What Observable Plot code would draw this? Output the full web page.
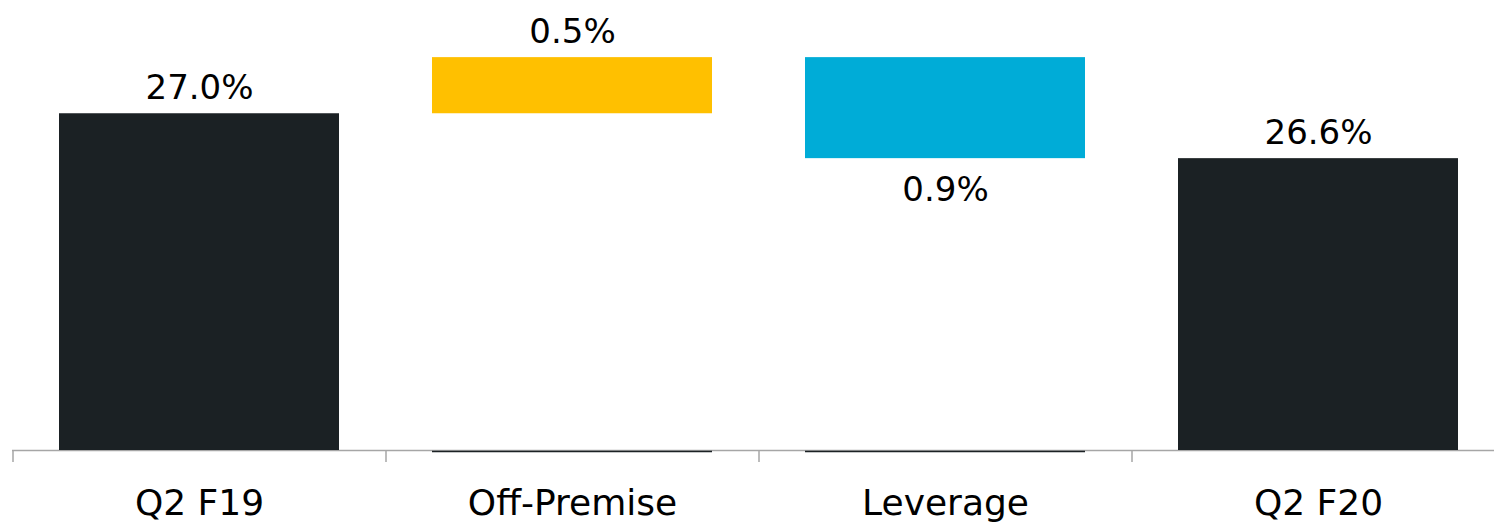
<!DOCTYPE html>
<html>
<head>
<meta charset="utf-8">
<script src="https://cdn.jsdelivr.net/npm/d3@7"></script>
<script src="https://cdn.jsdelivr.net/npm/@observablehq/plot@0.6"></script>
<style>
  html, body { margin: 0; padding: 0; background: #fff; }
  #chart svg { display: block; }
</style>
</head>
<body>
<div id="chart"></div>
<script>
const categories = ["Q2 F19", "Off-Premise", "Leverage", "Q2 F20"];
const values = [27.0, 0.5, -0.9, 26.6];
const kinds = ["total", "increase", "decrease", "total"];
const labels = ["27.0%", "0.5%", "0.9%", "26.6%"];
const colors = {total: "#1b2124", increase: "#ffc000", decrease: "#00acd7"};
const axisMin = 24;
const axisMax = 28;

// build waterfall rows
let running = 0;
const rows = categories.map((c, i) => {
  let y1, y2;
  if (kinds[i] === "total") { y1 = axisMin; y2 = values[i]; running = values[i]; }
  else { y1 = running; y2 = running + values[i]; running = y2; }
  return {category: c, kind: kinds[i], y1, y2, top: Math.max(y1, y2), bottom: Math.min(y1, y2), label: labels[i]};
});
const floating = rows.filter(d => d.kind !== "total");
const above = rows.filter(d => d.kind !== "decrease");
const below = rows.filter(d => d.kind === "decrease");

const font = "DejaVu Sans";
const chart = Plot.plot({
  width: 1494,
  height: 523,
  marginTop: 1,
  marginBottom: 73,
  marginLeft: 12,
  marginRight: 0,
  style: {fontFamily: font, background: "#fff"},
  x: {domain: categories, range: [12, 1504], paddingInner: 0.25, paddingOuter: 0.125, axis: null},
  y: {domain: [axisMin, axisMax], axis: null},
  marks: [
    Plot.ruleY([axisMin], {stroke: "#a6a6a6", strokeWidth: 1.5}),
    Plot.ruleX(categories, {x: d => d, dx: -186.5, y1: axisMin, y2: axisMin, insetBottom: -12, stroke: "#a6a6a6", strokeWidth: 1.5}),
    Plot.tickY(floating, {x: "category", y: axisMin, dy: 1, stroke: "#1b2124", strokeWidth: 1.5}),
    Plot.barY(rows, {x: "category", y1: "y1", y2: "y2", fill: d => colors[d.kind]}),
    Plot.text(above, {x: "category", y: "top", text: "label", dy: -15, lineAnchor: "bottom", fontSize: 34, fill: "#000"}),
    Plot.text(below, {x: "category", y: "bottom", text: "label", dy: 18, lineAnchor: "top", fontSize: 34, fill: "#000"}),
    Plot.text(categories, {x: d => d, frameAnchor: "bottom", text: d => d, dy: 64, lineAnchor: "bottom", fontSize: 36, fill: "#000"})
  ]
});
document.getElementById("chart").appendChild(chart);
</script>
</body>
</html>
